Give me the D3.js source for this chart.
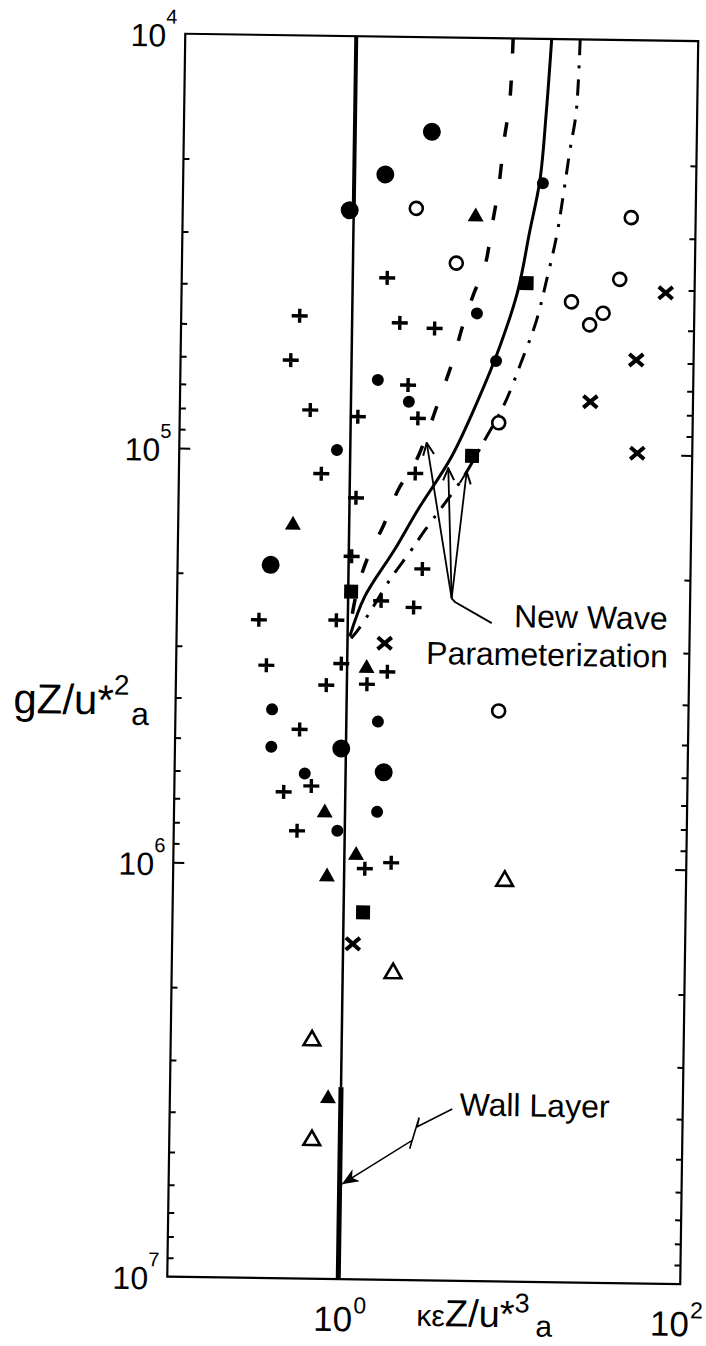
<!DOCTYPE html>
<html>
<head>
<meta charset="utf-8">
<script src="https://cdn.jsdelivr.net/npm/d3@7/dist/d3.min.js"></script>
<style>
html,body{margin:0;padding:0;background:#fff;}
svg{display:block;font-family:"Liberation Sans",Arial,Helvetica,sans-serif;}
</style>
</head>
<body>
<svg id="chart" width="706" height="1346"></svg>
<script>
// ================= DATA =================
// axis ticks
const xTicks = [1, 100];
const xTickExp = ["0", "2"];
const yTicks = [1e4, 1e5, 1e6, 1e7];
const yTickExp = ["4", "5", "6", "7"];

// Wall layer: kεZ/u*^3 = 1, with breakpoints where the scanned line changes weight
const wallX = 1;
const wallBreaksY = [1e4, 2.73e4, 3.44e6, 1e7];

// New wave parameterization curves
const solidX   = [13.9, 13.1, 12.2, 10.7, 9.27, 7.33, 5.53, 3.90, 2.52, 1.85, 1.25, 1.03];
const solidY   = [1.0e4, 1.51e4, 2.19e4, 2.94e4, 4.05e4, 5.55e4, 7.48e4, 1.03e5, 1.38e5, 1.73e5, 2.25e5, 2.81e5];
const dashedX  = [8.27, 8.00, 7.46, 7.01, 6.47, 5.90, 5.13, 4.42, 3.92, 3.37, 2.44, 1.92, 1.58, 1.30, 1.14, 1.05, 1.03];
const dashedY  = [1.0e4, 1.42e4, 1.77e4, 2.28e4, 2.82e4, 3.56e4, 4.13e4, 4.98e4, 6.00e4, 7.23e4, 1.05e5, 1.24e5, 1.52e5, 1.80e5, 2.13e5, 2.56e5, 2.81e5];
const dashDotX = [20.4, 19.6, 18.1, 16.7, 15.4, 13.6, 11.9, 9.83, 7.93, 6.10, 4.60, 2.77, 2.32, 1.74, 1.37, 1.17, 1.05];
const dashDotY = [1.0e4, 1.50e4, 1.87e4, 2.40e4, 3.00e4, 3.82e4, 4.82e4, 6.03e4, 7.60e4, 9.33e4, 1.15e5, 1.55e5, 1.73e5, 2.05e5, 2.42e5, 2.68e5, 2.84e5];

// measurements, by symbol
const bigDotX = [2.82, 1.52, 0.947, 0.350, 0.939, 1.67];
const bigDotY = [1.69e4, 2.15e4, 2.63e4, 1.90e5, 5.24e5, 5.96e5];
const dotX = [12.7, 5.36, 7.00, 1.43, 2.18, 0.836, 0.367, 1.53, 0.366, 0.577, 1.54, 0.905];
const dotY = [2.23e4, 4.62e4, 6.01e4, 6.74e4, 7.59e4, 9.98e4, 4.24e5, 4.50e5, 5.22e5, 6.04e5, 7.43e5, 8.28e5];
const circleX = [2.32, 42.0, 4.02, 36.4, 19.1, 29.3, 24.5, 7.34, 7.76];
const circleY = [2.59e4, 2.68e4, 3.50e4, 3.78e4, 4.30e4, 4.57e4, 4.88e4, 8.47e4, 4.20e5];
const plusX = [1.59, 0.493, 1.90, 3.04, 0.441, 2.15, 0.579, 1.10, 2.47, 0.680, 2.41, 1.09, 1.04, 2.70, 1.56, 2.42, 0.302, 0.857, 0.337, 0.924, 1.31, 1.72, 0.758, 0.534, 0.632, 0.436, 0.526, 1.32, 1.88];
const plusY = [3.82e4, 4.75e4, 4.90e4, 5.04e4, 6.08e4, 6.92e4, 8.01e4, 8.28e4, 8.32e4, 1.14e5, 1.13e5, 1.30e5, 1.80e5, 1.92e5, 2.30e5, 2.38e5, 2.58e5, 2.57e5, 3.32e5, 3.27e5, 3.66e5, 3.41e5, 3.69e5, 4.73e5, 6.47e5, 6.70e5, 8.31e5, 1.02e6, 9.85e5];
const triFilledX = [5.17, 0.469, 1.30, 0.761, 1.17, 0.794, 0.841];
const triFilledY = [2.70e4, 1.52e5, 3.35e5, 7.50e5, 9.47e5, 1.07e6, 3.67e6];
const triOpenX = [8.70, 1.97, 0.670, 0.682];
const triOpenY = [1.08e6, 1.82e6, 2.66e6, 4.63e6];
const squareX = [10.4, 5.16, 1.04, 1.30];
const squareY = [3.89e4, 1.02e5, 2.19e5, 1.30e6];
const crossX = [67.8, 46.2, 25.1, 47.7, 1.65, 1.14];
const crossY = [4.06e4, 5.91e4, 7.48e4, 9.92e4, 2.91e5, 1.55e6];

// annotation anchors (data space)
const waveLeaderX = [6.95, 4.22, 4.03];
const waveLeaderY = [2.58e5, 2.30e5, 2.255e5];
const waveTipX = [2.795, 3.756, 4.815];
const waveTipY = [9.53e4, 1.095e5, 1.115e5];
const wallArrowX = [4.49, 2.81, 2.88, 2.55, 2.63, 1.03];
const wallArrowY = [3.85e6, 4.26e6, 4.05e6, 4.82e6, 4.60e6, 5.90e6];

// ================= LAYOUT =================
const W = 706, H = 1346;
const frame = {x0: 176.25, x1: 689.25, y0: 37.4, y1: 1280.4};
const tilt = 0.83, cx = 432.75, cy = 658.9; // scanned page is slightly rotated

const svg = d3.select('#chart');
svg.append('rect').attr('width', W).attr('height', H).attr('fill', '#fff');
const defs = svg.append('defs');
defs.append('marker').attr('id', 'openHead').attr('viewBox', '0 0 14 14')
  .attr('refX', 13).attr('refY', 7).attr('markerWidth', 14).attr('markerHeight', 14)
  .attr('markerUnits', 'userSpaceOnUse').attr('orient', 'auto')
  .append('path').attr('d', 'M1,1.5 L13,7 L1,12.5').attr('fill', 'none')
  .attr('stroke', '#000').attr('stroke-width', 2);
defs.append('marker').attr('id', 'solidHead').attr('viewBox', '0 0 18 14')
  .attr('refX', 17).attr('refY', 7).attr('markerWidth', 18).attr('markerHeight', 14)
  .attr('markerUnits', 'userSpaceOnUse').attr('orient', 'auto')
  .append('path').attr('d', 'M0,0 L17,7 L0,14 L5,7 Z').attr('fill', '#000');

const g = svg.append('g').attr('transform', `rotate(${tilt},${cx},${cy})`);

const x = d3.scaleLog().domain([0.1, 100]).range([frame.x0, frame.x1]);
const y = d3.scaleLog().domain([1e4, 1e7]).range([frame.y0, frame.y1]);

// frame
g.append('rect').attr('x', frame.x0).attr('y', frame.y0)
  .attr('width', frame.x1 - frame.x0).attr('height', frame.y1 - frame.y0)
  .attr('fill', 'none').attr('stroke', '#000').attr('stroke-width', 2.2);

// minor / major ticks on left and right borders (inward)
const minorY = [];
[1e4, 1e5, 1e6].forEach(d => { for (let k = 2; k <= 9; k++) minorY.push(k * d); });
const majorY = yTicks.slice(1, -1);
function tickSet(axis, vals, len, tx) {
  const a = g.append('g').attr('transform', `translate(${tx},0)`)
    .call(axis(y).tickValues(vals).tickSize(len).tickFormat(''));
  a.select('.domain').remove();
  a.selectAll('line').attr('stroke', '#000').attr('stroke-width', 2);
}
tickSet(d3.axisRight, minorY, 6, frame.x0);
tickSet(d3.axisRight, majorY, 11, frame.x0);
tickSet(d3.axisLeft, minorY, 6, frame.x1);
tickSet(d3.axisLeft, majorY, 11, frame.x1);

// y tick labels
yTicks.forEach((v, i) => {
  const t = g.append('text').attr('x', frame.x0 - 8).attr('y', y(v) + 13)
    .attr('text-anchor', 'end').attr('fill', '#000');
  t.append('tspan').attr('font-size', 32).text('10');
  t.append('tspan').attr('font-size', 20).attr('dy', -23).text(yTickExp[i]);
});
// x tick labels (kept inside the page)
xTicks.forEach((v, i) => {
  const lab = g.append('g');
  const base = lab.append('text').attr('x', x(v) - 5).attr('y', frame.y1 + 52)
    .attr('text-anchor', 'middle').attr('font-size', 35).attr('fill', '#000').text('10');
  const w = base.node().getComputedTextLength();
  lab.append('text').attr('x', x(v) - 5 + w / 2 + 1).attr('y', frame.y1 + 34)
    .attr('font-size', 23).attr('fill', '#000').text(xTickExp[i]);
  const bb = lab.node().getBoundingClientRect();
  const over = bb.right - (W - 3);
  if (over > 0) lab.attr('transform', `translate(${-over},0)`);
});

// axis titles
const yt = g.append('text').attr('x', 14).attr('y', 719).attr('font-size', 42).attr('fill', '#000');
yt.append('tspan').text('gZ/u*');
yt.append('tspan').attr('font-size', 28).attr('dy', -20).text('2');
yt.append('tspan').attr('font-size', 32).attr('dy', 30).attr('dx', 2).text('a');

const xt = g.append('text').attr('x', 426).attr('y', 1326).attr('fill', '#000');
xt.append('tspan').attr('font-size', 30).text('κε');
xt.append('tspan').attr('font-size', 38).text('Z/u*');
xt.append('tspan').attr('font-size', 27).attr('dy', -15).text('3');
xt.append('tspan').attr('font-size', 30).attr('dy', 24).attr('dx', 6).text('a');

// wall layer line (weights follow the scan)
const wallWidths = [4, 2.5, 5];
for (let i = 0; i < wallBreaksY.length - 1; i++) {
  g.append('line').attr('x1', x(wallX)).attr('x2', x(wallX))
    .attr('y1', y(wallBreaksY[i])).attr('y2', y(wallBreaksY[i + 1]))
    .attr('stroke', '#000').attr('stroke-width', wallWidths[i]);
}

// parameterization curves
const curve = d3.line().x(d => x(d[0])).y(d => y(d[1])).curve(d3.curveCatmullRom.alpha(0.5));
const zip = (a, b) => a.map((v, i) => [v, b[i]]);
g.append('path').attr('d', curve(zip(solidX, solidY))).attr('fill', 'none')
  .attr('stroke', '#000').attr('stroke-width', 3);
g.append('path').attr('d', curve(zip(dashedX, dashedY))).attr('fill', 'none')
  .attr('stroke', '#000').attr('stroke-width', 3.5).attr('stroke-dasharray', '15,27');
g.append('path').attr('d', curve(zip(dashDotX, dashDotY))).attr('fill', 'none')
  .attr('stroke', '#000').attr('stroke-width', 3).attr('stroke-dasharray', '16,10,3,11');

// markers
const pts = (a, b) => a.map((v, i) => ({x: v, y: b[i]}));
g.selectAll('.bigdot').data(pts(bigDotX, bigDotY)).join('circle')
  .attr('cx', d => x(d.x)).attr('cy', d => y(d.y)).attr('r', 9).attr('fill', '#000');
g.selectAll('.dot').data(pts(dotX, dotY)).join('circle')
  .attr('cx', d => x(d.x)).attr('cy', d => y(d.y)).attr('r', 6).attr('fill', '#000');
g.selectAll('.ocirc').data(pts(circleX, circleY)).join('circle')
  .attr('cx', d => x(d.x)).attr('cy', d => y(d.y)).attr('r', 6.5)
  .attr('fill', '#fff').attr('stroke', '#000').attr('stroke-width', 2.6);
g.selectAll('.plus').data(pts(plusX, plusY)).join('path')
  .attr('d', d => { const px = x(d.x), py = y(d.y);
    return `M${px - 8},${py}H${px + 8}M${px},${py - 7}V${py + 7}`; })
  .attr('stroke', '#000').attr('stroke-width', 3.4).attr('fill', 'none');
const triSym = d3.symbol().type(d3.symbolTriangle);
g.selectAll('.ftri').data(pts(triFilledX, triFilledY)).join('path')
  .attr('transform', d => `translate(${x(d.x)},${y(d.y)})`)
  .attr('d', triSym.size(110)()).attr('fill', '#000');
g.selectAll('.otri').data(pts(triOpenX, triOpenY)).join('path')
  .attr('transform', d => `translate(${x(d.x)},${y(d.y)})`)
  .attr('d', triSym.size(120)()).attr('fill', '#fff').attr('stroke', '#000').attr('stroke-width', 2.6);
g.selectAll('.sq').data(pts(squareX, squareY)).join('rect')
  .attr('x', d => x(d.x) - 7).attr('y', d => y(d.y) - 7).attr('width', 14).attr('height', 14)
  .attr('fill', '#000');
g.selectAll('.cross').data(pts(crossX, crossY)).join('path')
  .attr('d', d => { const px = x(d.x), py = y(d.y);
    return `M${px - 7},${py - 6}L${px + 7},${py + 6}M${px - 7},${py + 6}L${px + 7},${py - 6}`; })
  .attr('stroke', '#000').attr('stroke-width', 4).attr('fill', 'none');

// New Wave Parameterization annotation
const poly = d3.line().x(d => x(d[0])).y(d => y(d[1]));
g.append('path').attr('d', poly(zip(waveLeaderX, waveLeaderY))).attr('fill', 'none')
  .attr('stroke', '#000').attr('stroke-width', 1.8);
const base = [waveLeaderX[waveLeaderX.length - 1], waveLeaderY[waveLeaderY.length - 1]];
waveTipX.forEach((tx, i) => {
  g.append('path').attr('d', poly([base, [tx, waveTipY[i]]])).attr('fill', 'none')
    .attr('stroke', '#000').attr('stroke-width', 1.8).attr('marker-end', 'url(#openHead)');
});
g.append('text').attr('x', 667).attr('y', 626).attr('text-anchor', 'end')
  .attr('font-size', 32).attr('fill', '#000').text('New Wave');
g.append('text').attr('x', 668).attr('y', 664).attr('text-anchor', 'end')
  .attr('font-size', 32).attr('fill', '#000').text('Parameterization');

// Wall Layer annotation
g.append('path').attr('d', poly(zip(wallArrowX, wallArrowY))).attr('fill', 'none')
  .attr('stroke', '#000').attr('stroke-width', 1.6).attr('marker-end', 'url(#solidHead)');
g.append('text').attr('x', 466).attr('y', 1115).attr('font-size', 32).attr('fill', '#000').text('Wall Layer');
</script>
</body>
</html>
